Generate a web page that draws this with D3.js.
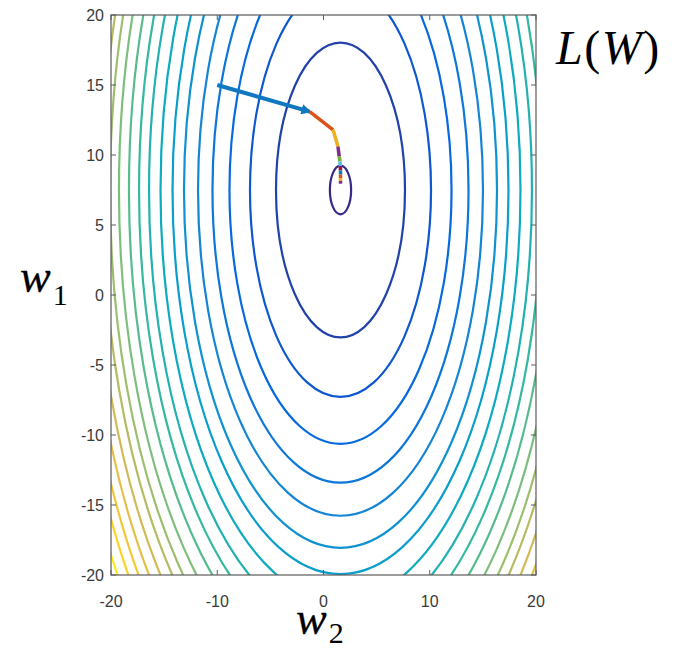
<!DOCTYPE html>
<html>
<head>
<meta charset="utf-8">
<script src="https://cdn.jsdelivr.net/npm/d3@7"></script>
<style>
  body { margin: 0; background: #fff; }
  svg { display: block; }
</style>
</head>
<body>
<svg id="chart" width="675" height="649"></svg>
<script>
// ---- data ----
var xTicks = [-20, -10, 0, 10, 20];
var yTicks = [-20, -15, -10, -5, 0, 5, 10, 15, 20];
var centerW2 = 1.6;
var centerW1 = 7.5;
// semi-axis of each contour along w2 (w1 semi-axis = aspect * this)
var levelRadii = [1.0, 6.07, 8.52, 10.45, 12.05, 13.41, 14.73, 15.81, 16.94, 18.02,
                  18.96, 19.91, 20.85, 21.69, 22.4, 23.2, 24.0, 24.75, 25.5, 26.3];
var aspect = 1.735;
var radiusMax = 26.8; // top of colour range (corner of the grid)
// gradient descent steps
var stepW2 = [-10, -1.3, 0.9, 1.36, 1.48, 1.55, 1.58, 1.6, 1.6, 1.6, 1.6, 1.6];
var stepW1 = [15, 13.1, 11.8, 10.6, 9.9, 9.55, 9.2, 8.9, 8.6, 8.35, 8.15, 7.95];
var stepColors = ["#0f78c0", "#d95319", "#edb120", "#7e2f8e", "#77ac30", "#4dbeee", "#a2142f"];
// parula colormap anchors
var parulaStops = [0, 8/63, 16/63, 24/63, 32/63, 40/63, 48/63, 56/63, 1];
var parulaColors = ["#352a87", "#0363e1", "#1485d4", "#06a7c6", "#38b99e",
                    "#92bf73", "#d9ba56", "#fcce2e", "#f9fb0e"];

//=========== setup ===========
var svg = d3.select("#chart");
var plot = { left: 111, right: 536, top: 15, bottom: 575 };

var x = d3.scaleLinear().domain([-20, 20]).range([plot.left, plot.right]);
var y = d3.scaleLinear().domain([-20, 20]).range([plot.bottom, plot.top]);
var parula = d3.scaleLinear().domain(parulaStops).range(parulaColors).interpolate(d3.interpolateRgb);

svg.append("defs").append("clipPath").attr("id", "plotClip")
  .append("rect")
  .attr("x", plot.left).attr("y", plot.top)
  .attr("width", plot.right - plot.left).attr("height", plot.bottom - plot.top);

var g = svg.append("g").attr("clip-path", "url(#plotClip)");

//=========== contours ===========
g.selectAll("ellipse.level")
  .data(levelRadii)
  .enter().append("ellipse")
  .attr("class", "level")
  .attr("cx", x(centerW2))
  .attr("cy", y(centerW1))
  .attr("rx", d => x(centerW2 + d) - x(centerW2))
  .attr("ry", d => y(centerW1) - y(centerW1 + d * aspect))
  .style("fill", "none")
  .style("stroke", d => parula((d * d) / (radiusMax * radiusMax)))
  .style("stroke-width", 2.2);

//=========== descent path ===========
var steps = stepW2.map((w2, i) => ({ w2: w2, w1: stepW1[i] }));
var segs = d3.pairs(steps);

svg.append("defs").append("marker")
  .attr("id", "head")
  .attr("viewBox", "0 0 10 10")
  .attr("refX", 8).attr("refY", 5)
  .attr("markerWidth", 2.6).attr("markerHeight", 2.6)
  .attr("orient", "auto")
  .append("path")
  .attr("d", "M0,0 L10,5 L0,10 Z")
  .style("fill", stepColors[0]);

g.selectAll("line.step")
  .data(segs)
  .enter().append("line")
  .attr("class", "step")
  .attr("x1", d => x(d[0].w2)).attr("y1", d => y(d[0].w1))
  .attr("x2", d => x(d[1].w2)).attr("y2", d => y(d[1].w1))
  .style("stroke", (d, i) => stepColors[i % stepColors.length])
  .style("stroke-width", (d, i) => i === 0 ? 4 : 3.5)
  .attr("marker-end", (d, i) => i === 0 ? "url(#head)" : null);

//=========== axes (box with inner ticks) ===========
var axisColor = "#5a5a5a";
var tickFont = "'Liberation Sans', Arial, sans-serif";

svg.append("rect")
  .attr("x", plot.left).attr("y", plot.top)
  .attr("width", plot.right - plot.left).attr("height", plot.bottom - plot.top)
  .style("fill", "none").style("stroke", axisColor).style("stroke-width", 1.2);

// bottom / top ticks
xTicks.forEach(function(t) {
  svg.append("line").attr("x1", x(t)).attr("x2", x(t))
    .attr("y1", plot.bottom).attr("y2", plot.bottom - 5)
    .style("stroke", axisColor);
  svg.append("line").attr("x1", x(t)).attr("x2", x(t))
    .attr("y1", plot.top).attr("y2", plot.top + 5)
    .style("stroke", axisColor);
  svg.append("text")
    .attr("x", x(t)).attr("y", plot.bottom + 32)
    .attr("text-anchor", "middle")
    .style("font-family", tickFont).style("font-size", "16px")
    .style("fill", "#3a3a3a")
    .text(t);
});
// left / right ticks
yTicks.forEach(function(t) {
  svg.append("line").attr("x1", plot.left).attr("x2", plot.left + 5)
    .attr("y1", y(t)).attr("y2", y(t))
    .style("stroke", axisColor);
  svg.append("line").attr("x1", plot.right).attr("x2", plot.right - 5)
    .attr("y1", y(t)).attr("y2", y(t))
    .style("stroke", axisColor);
  svg.append("text")
    .attr("x", plot.left - 7).attr("y", y(t) + 6)
    .attr("text-anchor", "end")
    .style("font-family", tickFont).style("font-size", "16px")
    .style("fill", "#3a3a3a")
    .text(t);
});

//=========== labels ===========
var mathFont = "'Liberation Serif', 'DejaVu Serif', serif";

function subLabel(px, py, main, sub, dy) {
  var t = svg.append("text")
    .attr("x", px).attr("y", py)
    .style("font-family", mathFont).style("fill", "#000");
  t.append("tspan").style("font-style", "italic").style("font-size", "46px")
    .style("stroke", "#000").style("stroke-width", 0.3).text(main);
  t.append("tspan").attr("dy", dy).attr("dx", 2).style("font-size", "30px").text(sub);
}
subLabel(20, 292, "w", "1", 13);
subLabel(296, 634, "w", "2", 9);

var L = svg.append("text")
  .attr("x", 556).attr("y", 64)
  .style("font-family", mathFont).style("font-size", "48px")
  .style("letter-spacing", "1.5px").style("fill", "#000");
L.append("tspan").style("font-style", "italic").text("L");
L.append("tspan").text("(");
L.append("tspan").style("font-style", "italic").text("W");
L.append("tspan").text(")");
</script>
</body>
</html>
